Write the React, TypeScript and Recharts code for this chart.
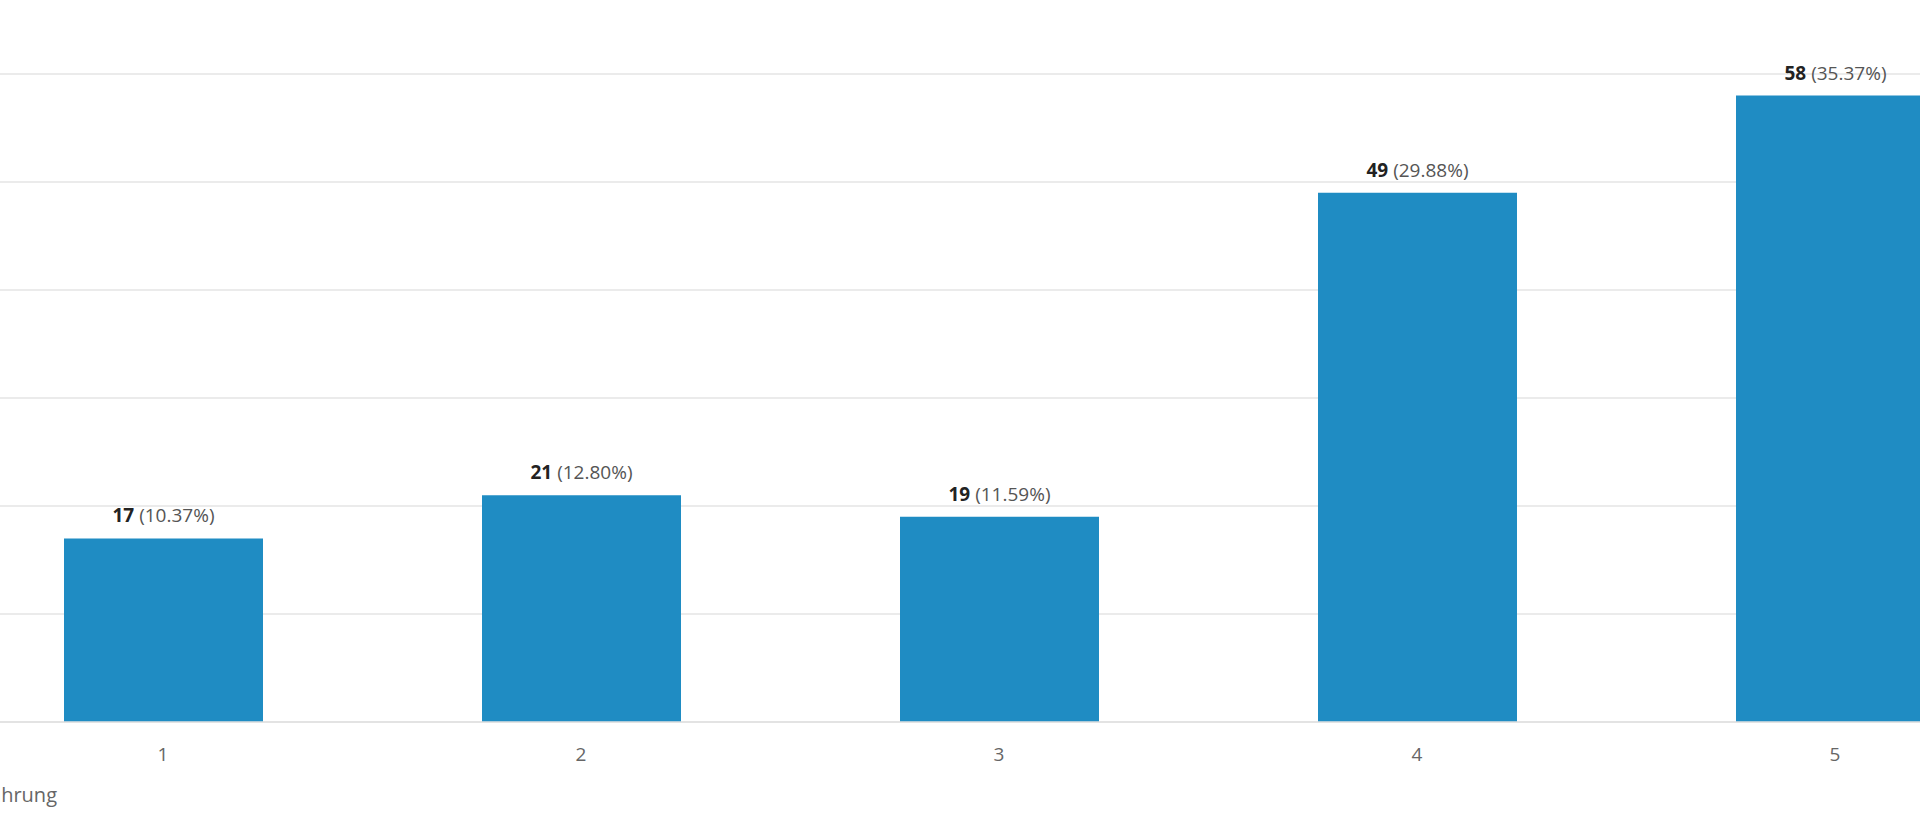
import React from "react";
import { BarChart, Bar, XAxis, YAxis, CartesianGrid, LabelList } from "recharts";

const categories = ["1", "2", "3", "4", "5"];
const counts = [17, 21, 19, 49, 58];
const percents = ["10.37%", "12.80%", "11.59%", "29.88%", "35.37%"];
const yTicks = [0, 10, 20, 30, 40, 50, 60];
const axisTitle = "Erfahrung";

const data = categories.map((c, i) => ({ name: c, value: counts[i], pct: percents[i] }));

const FONT = "'Open Sans', 'Noto Sans', sans-serif";

const ValueLabel = (props: any) => {
  const { x, y, width, index } = props;
  const d = data[index];
  return (
    <text
      x={Number(x) + Number(width) / 2}
      y={Number(y) - 23}
      textAnchor="middle"
      dominantBaseline="central"
      fontFamily={FONT}
      fontSize={19}
    >
      <tspan fontWeight={700} fill="#222">{d.value}</tspan>
      <tspan fill="#555">{" (" + d.pct + ")"}</tspan>
    </text>
  );
};

const Tick = (props: any) => {
  const { x, y, payload } = props;
  return (
    <text
      x={x}
      y={Number(y) + 32}
      textAnchor="middle"
      dominantBaseline="central"
      fontFamily={FONT}
      fontSize={19}
      fill="#666"
    >
      {payload.value}
    </text>
  );
};

export default function App() {
  return (
    <div
      style={{
        position: "absolute",
        left: 0,
        top: 0,
        width: 1920,
        height: 823,
        overflow: "hidden",
        background: "#fff",
      }}
    >
      <div style={{ position: "absolute", left: -46, top: 0 }}>
        <BarChart
          width={2090}
          height={823}
          data={data}
          margin={{ top: 74, right: 0, bottom: 0, left: 0 }}
          barSize={199}
        >
          <CartesianGrid horizontal vertical={false} stroke="#e4e4e4" strokeWidth={1.5} />
          <YAxis hide domain={[0, 60]} ticks={yTicks} width={0} />
          <XAxis
            dataKey="name"
            height={101}
            axisLine={{ stroke: "#e0e0e0", strokeWidth: 1.5 }}
            tickLine={false}
            tickSize={0}
            tickMargin={0}
            tick={<Tick />}
            interval={0}
          />
          <Bar dataKey="value" fill="#1f8cc3" isAnimationActive={false}>
            <LabelList dataKey="value" content={<ValueLabel />} />
          </Bar>
        </BarChart>
      </div>
      <div
        style={{
          position: "absolute",
          right: 1920 - 57,
          top: 782,
          fontFamily: FONT,
          fontSize: 20,
          color: "#666",
          whiteSpace: "nowrap",
          lineHeight: "26px",
        }}
      >
        {axisTitle}
      </div>
    </div>
  );
}
